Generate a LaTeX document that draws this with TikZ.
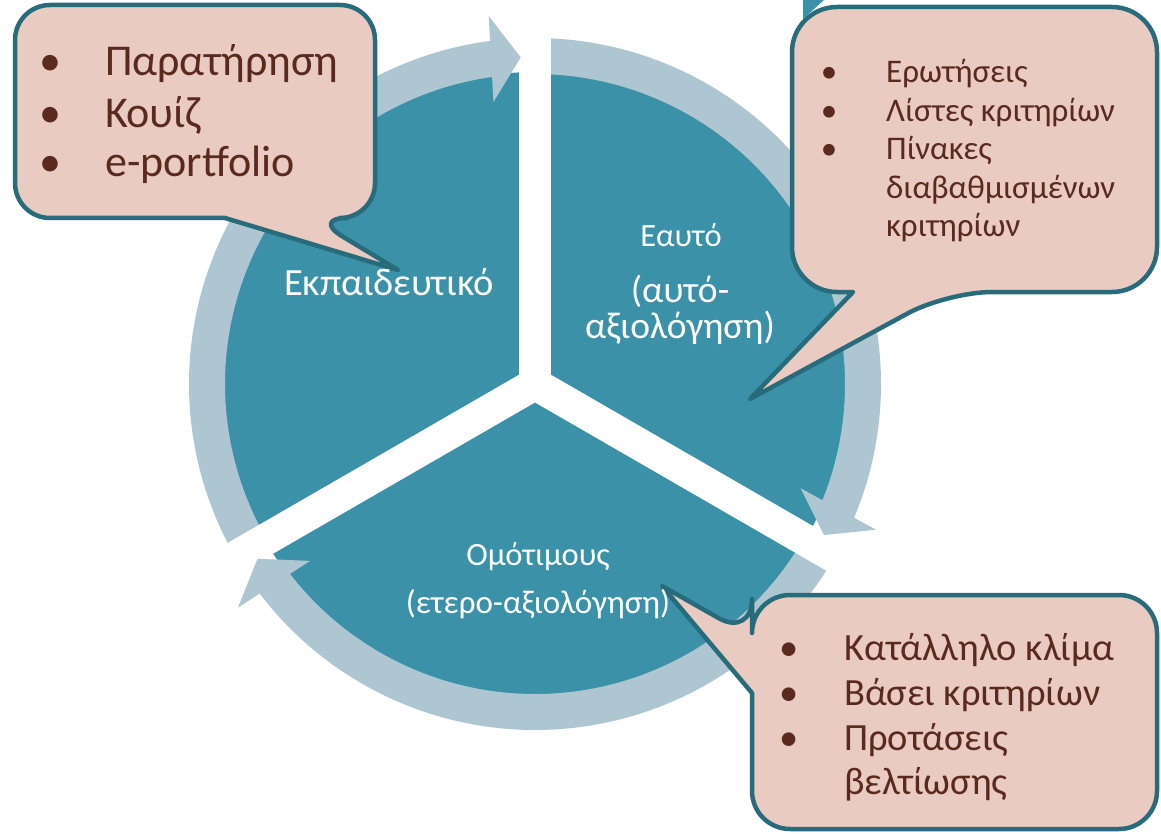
\documentclass[tikz,border=0pt]{standalone}
\usepackage{fontspec}
\setmainfont{Carlito}
\usetikzlibrary{calc}
\definecolor{discteal}{HTML}{3A91A8}
\definecolor{ringblue}{HTML}{AEC6D1}
\definecolor{notefill}{HTML}{E9CBC1}
\definecolor{noteline}{HTML}{286B7B}
\definecolor{notetext}{HTML}{5A2A1E}
\begin{document}
\begin{tikzpicture}[x=1pt,y=1pt,
  callout/.style={fill=notefill, draw=noteline, line width=4.5pt, line join=round},
  ringarc/.style={draw=ringblue, line width=36pt},
  ringhead/.style={fill=ringblue},
  gapline/.style={draw=white, line width=32pt},
  label/.style={text=white, anchor=base, inner sep=0pt},
  bulletmark/.style={text=notetext, anchor=base, inner sep=0pt},
  itemtext/.style={text=notetext, anchor=base west, inner sep=0pt},
]
\useasboundingbox (0,0) rectangle (1161,-834);
\coordinate (C) at (535,-384);

% central disc
\fill[discteal] (C) circle (312pt);

% the three ring segments (clockwise)
\draw[ringarc] ($(C)+(210:328pt)$) arc[start angle=210, end angle=96, radius=328pt];
\draw[ringarc] ($(C)+(90:328pt)$) arc[start angle=90, end angle=-24, radius=328pt];
\draw[ringarc] ($(C)+(-30:328pt)$) arc[start angle=-30, end angle=-144, radius=328pt];

% white gaps splitting the disc into three sectors
\draw[gapline] (C) -- ++(90:390pt);
\draw[gapline] (C) -- ++(-30:390pt);
\draw[gapline] (C) -- ++(210:390pt);
\fill[white] (C) circle (17pt);

% arrow heads
\coordinate (M1) at ($(C)+(97.7:328pt)$);
\coordinate (T1) at ($(C)+(92.5:327pt)$);
\coordinate (M2) at ($(C)+(-22.4:328pt)$);
\coordinate (T2) at ($(C)+(-27.6:326pt)$);
\coordinate (M3) at ($(C)+(217.5:329pt)$);
\coordinate (T3) at ($(C)+(212.2:328pt)$);
\fill[ringhead] ($(M1)!43pt!90:(T1)$) -- (T1) -- ($(M1)!43pt!-90:(T1)$) -- cycle;
\fill[ringhead] ($(M2)!43pt!90:(T2)$) -- (T2) -- ($(M2)!43pt!-90:(T2)$) -- cycle;
\fill[ringhead] ($(M3)!43pt!90:(T3)$) -- (T3) -- ($(M3)!43pt!-90:(T3)$) -- cycle;

% small teal corner at the top edge
\fill[discteal] (803,0) -- (824,0) -- (803,-19) -- cycle;

% callouts
\draw[callout] (398,-270) -- (225,-218) [rounded corners=35pt] -- (15,-218) -- (15,-5) -- (375,-5) -- (375,-218) -- (312,-218) [sharp corners] -- cycle;
\draw[callout] (750,-399) -- (853,-292) [rounded corners=45pt] -- (792,-292) -- (792,-7) -- (1157,-7) -- (1157,-292) -- (947,-292) [sharp corners] -- cycle;
\draw[callout] (662,-586) -- (752,-693) [rounded corners=38pt] -- (752,-829) -- (1157,-829) -- (1157,-595) -- (752,-595) -- (752,-637) [sharp corners] -- cycle;

% sector labels
\node[label, font=\fontsize{38.5pt}{44pt}\selectfont] (edu) at (389,-295) {Εκπαιδευτικό};
\node[label, font=\fontsize{32.5pt}{38pt}\selectfont] (self) at (681,-247) {Εαυτό};
\node[label, font=\fontsize{37.5pt}{44pt}\selectfont] (self2) at (680,-302) {(αυτό-};
\node[label, font=\fontsize{37.5pt}{44pt}\selectfont] (self3) at (680,-338) {αξιολόγηση)};
\node[label, font=\fontsize{32.5pt}{38pt}\selectfont] (peer) at (538,-565) {Ομότιμους};
\node[label, font=\fontsize{33pt}{38pt}\selectfont] (peer2) at (538,-613) {(ετερο-αξιολόγηση)};

% teacher list
\begin{scope}[every node/.append style={font=\fontsize{44pt}{50pt}\selectfont}]
\node[bulletmark] (b11) at (50,-76) {•};
\node[bulletmark] (b12) at (50,-128) {•};
\node[bulletmark] (b13) at (50,-177) {•};
\node[itemtext] (t11) at (105,-76) {Παρατήρηση};
\node[itemtext] (t12) at (105,-128) {Κουίζ};
\node[itemtext] (t13) at (105,-177) {e-portfolio};
\end{scope}

% self-assessment list
\begin{scope}[every node/.append style={font=\fontsize{33pt}{38pt}\selectfont}]
\node[bulletmark] (b21) at (829,-83) {•};
\node[bulletmark] (b22) at (829,-122) {•};
\node[bulletmark] (b23) at (829,-160) {•};
\node[itemtext] (t21) at (886,-83) {Ερωτήσεις};
\node[itemtext] (t22) at (886,-122) {Λίστες κριτηρίων};
\node[itemtext] (t23) at (886,-160) {Πίνακες};
\node[itemtext] (t24) at (886,-199) {διαβαθμισμένων};
\node[itemtext] (t25) at (886,-237) {κριτηρίων};
\end{scope}

% peer-assessment list
\begin{scope}[every node/.append style={font=\fontsize{38.5pt}{44pt}\selectfont}]
\node[bulletmark] (b31) at (789,-660) {•};
\node[bulletmark] (b32) at (789,-705) {•};
\node[bulletmark] (b33) at (789,-750) {•};
\node[itemtext] (t31) at (844,-660) {Κατάλληλο κλίμα};
\node[itemtext] (t32) at (844,-705) {Βάσει κριτηρίων};
\node[itemtext] (t33) at (844,-750) {Προτάσεις};
\node[itemtext] (t34) at (844,-794) {βελτίωσης};
\end{scope}
\end{tikzpicture}
\end{document}
